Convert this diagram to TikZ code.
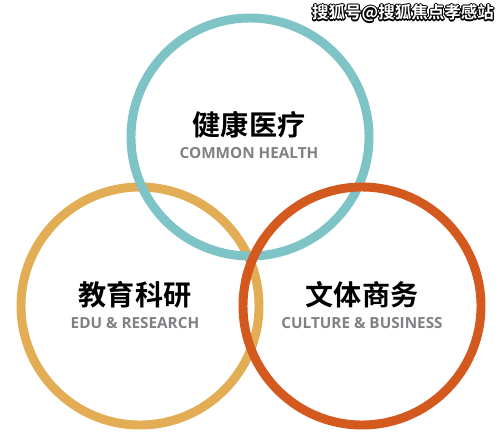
\documentclass[tikz,border=0pt]{standalone}
\usepackage{fontspec}
\usepackage{xcolor}
\usepackage{contour}
\usetikzlibrary{positioning}
\setmainfont{Open Sans}
\newfontfamily\cjk{Noto Sans CJK SC}[BoldFont={Noto Sans CJK SC Bold}]
\definecolor{tealring}{HTML}{7EC4C6}
\definecolor{goldring}{HTML}{E3AD55}
\definecolor{rustring}{HTML}{D4591F}
\definecolor{subgray}{HTML}{808184}
\contourlength{0.6pt}
\begin{document}
\begin{tikzpicture}[
    ring/.style={line width=5.1pt},
    titlecn/.style={font=\cjk\bfseries\fontsize{16}{16}\selectfont, text=black},
    titleen/.style={font=\bfseries\fontsize{8.7}{9}\selectfont, text=subgray}
  ]
   			\fill[white] (0,0) rectangle (10,8.94);
   			\useasboundingbox (0,0) rectangle (10,8.94);
   			\coordinate (H) at (5.0,6.2);
   			\coordinate (E) at (2.8,2.82);
   			\coordinate (C) at (7.24,2.82);

   			% the three rings
   			\draw[ring, goldring] (E) circle (2.38);
   			\draw[ring, tealring] (H) circle (2.38);
   			\draw[ring, rustring] (C) circle (2.38);
   			\draw[ring, rustring] ([shift={(145:2.38)}]C) arc (145:168:2.38);

   			\foreach \n/\x/\y/\cn/\en in {
   				hea/4.98/6.44/健康医疗/COMMON HEALTH,
   				edu/2.7/3.04/教育科研/EDU \& RESEARCH,
   				cul/7.24/3.04/文体商务/CULTURE \& BUSINESS
   			}{
   				\node[titlecn] (\n-cn) at (\x,\y) {\cn};
   				\node[titleen, below=-0.06 of \n-cn] (\n-en) {\en};
   			}

   			\node[font=\cjk\bfseries\fontsize{9.4}{10}\selectfont] (mark) at (8.06,8.66)
   				{\contour{black}{\color{white}搜狐号@搜狐焦点孝感站}};
   		\end{tikzpicture}
\end{document}
